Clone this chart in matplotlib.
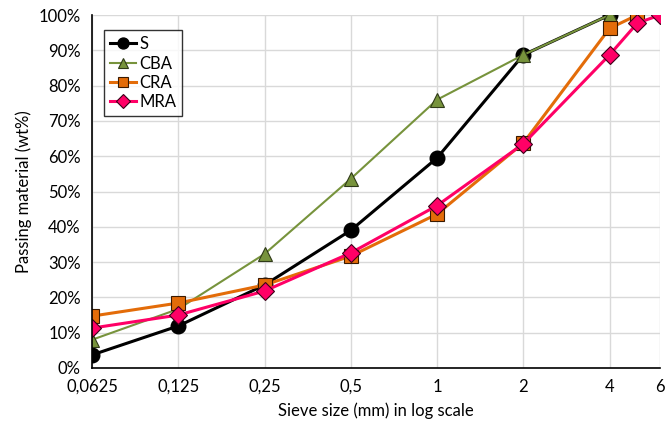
import matplotlib.pyplot as plt
from matplotlib.ticker import FixedLocator, FixedFormatter, FuncFormatter, NullLocator

plt.rcParams["font.family"] = ["Lato", "DejaVu Sans"]

# sieve sizes (mm) and passing material (wt%)
sieve_s = [0.0625, 0.125, 0.25, 0.5, 1, 2, 4]
pass_s = [3.7, 11.9, 23.5, 39.0, 59.5, 88.7, 100.0]

sieve_cba = [0.0625, 0.125, 0.25, 0.5, 1, 2, 4]
pass_cba = [8.0, 16.7, 32.3, 53.6, 76.0, 88.7, 100.0]

sieve_cra = [0.0625, 0.125, 0.25, 0.5, 1, 2, 4, 5]
pass_cra = [14.7, 18.4, 23.5, 31.7, 43.6, 63.7, 96.2, 100.0]

sieve_mra = [0.0625, 0.125, 0.25, 0.5, 1, 2, 4, 5, 6]
pass_mra = [11.3, 15.0, 21.8, 32.6, 46.0, 63.5, 88.7, 97.7, 100.0]

x_ticks = [0.0625, 0.125, 0.25, 0.5, 1, 2, 4, 6]
x_tick_labels = ["0,0625", "0,125", "0,25", "0,5", "1", "2", "4", "6"]

fig = plt.figure(figsize=(6.65, 4.32), dpi=100)
ax = fig.add_axes([92 / 665, 1 - 368 / 432, (660 - 92) / 665, (368 - 15) / 432])

ax.plot(sieve_s, pass_s, color="black", linewidth=2.2, marker="o",
        markersize=10.5, markerfacecolor="black", markeredgecolor="black", label="S")
ax.plot(sieve_cba, pass_cba, color="#77933C", linewidth=1.5, marker="^",
        markersize=10.5, markerfacecolor="#77933C", markeredgecolor="#2f3a18",
        markeredgewidth=0.8, label="CBA")
ax.plot(sieve_cra, pass_cra, color="#E36C09", linewidth=2.2, marker="s",
        markersize=10.5, markerfacecolor="#E36C09", markeredgecolor="#3a1a00",
        markeredgewidth=0.8, label="CRA")
ax.plot(sieve_mra, pass_mra, color="#FF0066", linewidth=2.2, marker="D",
        markersize=9.5, markerfacecolor="#FF0066", markeredgecolor="#3a0018",
        markeredgewidth=0.8, label="MRA")

ax.set_xscale("log", base=2)
ax.set_xlim(0.0625, 6)
ax.set_ylim(0, 100)
ax.xaxis.set_major_locator(FixedLocator(x_ticks))
ax.xaxis.set_major_formatter(FixedFormatter(x_tick_labels))
ax.xaxis.set_minor_locator(NullLocator())
ax.set_yticks(range(0, 101, 10))
ax.yaxis.set_major_formatter(FuncFormatter(lambda v, _: f"{v:.0f}%"))

ax.grid(True, color="#d9d9d9", linewidth=1.0)
ax.set_axisbelow(True)
for side in ("top", "right"):
    ax.spines[side].set_visible(False)
for side in ("left", "bottom"):
    ax.spines[side].set_color("black")
    ax.spines[side].set_linewidth(1.2)
ax.tick_params(length=0, labelsize=12, pad=8)

ax.set_xlabel("Sieve size (mm) in log scale", fontsize=12, labelpad=5)
ax.set_ylabel("Passing material (wt%)", fontsize=12, labelpad=5)

leg = ax.legend(loc="upper left", bbox_to_anchor=(0.006, 0.98), fontsize=12,
                frameon=True, fancybox=False, edgecolor="black",
                handlelength=1.6, handletextpad=0.2, borderpad=0.35,
                labelspacing=0.2, markerscale=0.75)
leg.get_frame().set_linewidth(1.0)

fig.savefig("out.png", dpi=100)
